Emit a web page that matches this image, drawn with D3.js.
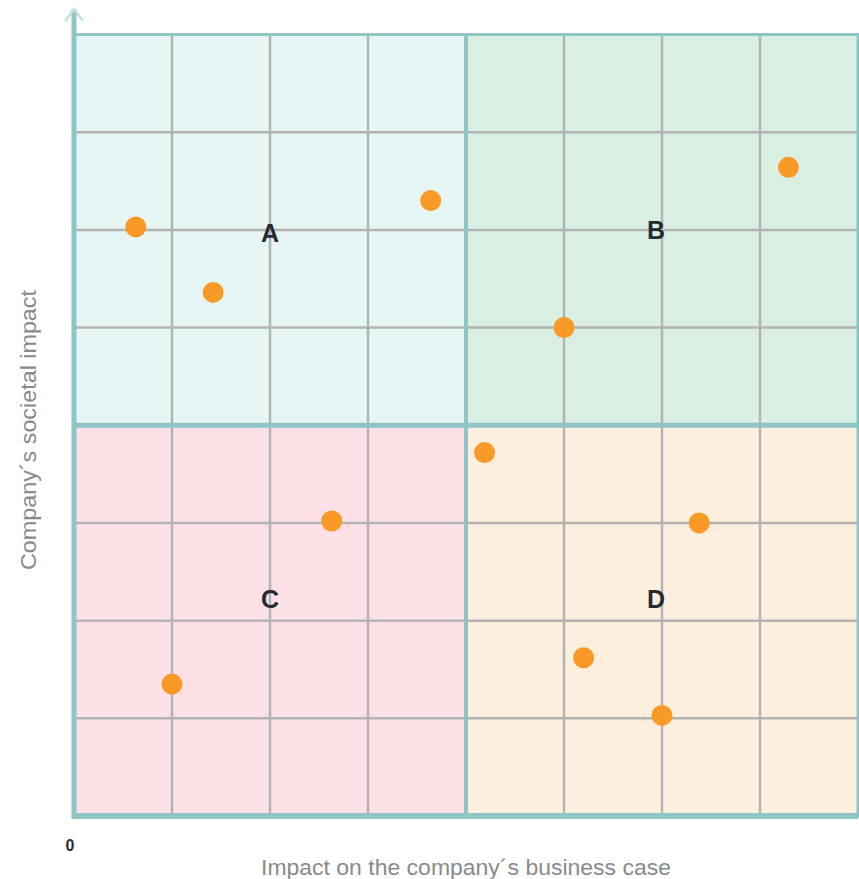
<!DOCTYPE html>
<html>
<head>
<meta charset="utf-8">
<script src="https://cdn.jsdelivr.net/npm/d3@7"></script>
<style>
  body { margin: 0; background: #fff; }
  text { font-family: "Liberation Sans", Arial, sans-serif; }
</style>
</head>
<body>
<div id="app"></div>
<script>
// data
const quadrants = ["A", "B", "C", "D"];
const quadX0 = [0, 4, 0, 4];
const quadY0 = [4, 4, 0, 0];
const quadFill = ["#e6f6f4", "#d9efe2", "#fde1e7", "#fdefde"];
const labelX = [2, 5.94, 2, 5.94];
const labelY = [5.97, 6, 2.22, 2.22];

const pointsX = [0.63, 1.42, 3.64, 7.29, 5.0, 2.63, 1.0, 4.19, 6.38, 5.2, 6.0];
const pointsY = [6.03, 5.36, 6.30, 6.64, 5.0, 3.02, 1.35, 3.72, 3.0, 1.62, 1.03];

const gridTicks = [1, 2, 3, 5, 6, 7];
const xTitle = "Impact on the company´s business case";
const yTitle = "Company´s societal impact";

const w = 859, h = 879;
const padL = 74, padR = 858, padT = 34.5, padB = 816;

const svg = d3.select("#app").append("svg")
  .attr("width", w)
  .attr("height", h);

const x = d3.scaleLinear().domain([0, 8]).range([padL, padR]);
const y = d3.scaleLinear().domain([0, 8]).range([padB, padT]);

// quadrant backgrounds
svg.selectAll("rect.quad")
  .data(quadrants)
  .enter().append("rect")
  .attr("class", "quad")
  .attr("x", (d, i) => x(quadX0[i]))
  .attr("y", (d, i) => y(quadY0[i] + 4))
  .attr("width", (d, i) => x(quadX0[i] + 4) - x(quadX0[i]))
  .attr("height", (d, i) => y(quadY0[i]) - y(quadY0[i] + 4))
  .style("fill", (d, i) => quadFill[i]);

// grid
svg.append("g").selectAll("line")
  .data(gridTicks).enter().append("line")
  .attr("x1", d => x(d)).attr("x2", d => x(d))
  .attr("y1", y(8)).attr("y2", y(0))
  .style("stroke", "#b3b3b3").style("stroke-width", 2.5);

svg.append("g").selectAll("line")
  .data(gridTicks).enter().append("line")
  .attr("y1", d => y(d)).attr("y2", d => y(d))
  .attr("x1", x(0)).attr("x2", x(8))
  .style("stroke", "#b3b3b3").style("stroke-width", 2.5);

// quadrant borders
const teal = "#90c5c5";
svg.append("rect")
  .attr("x", x(0)).attr("y", y(8))
  .attr("width", x(8) - x(0)).attr("height", y(0) - y(8))
  .style("fill", "none").style("stroke", teal).style("stroke-width", 3);
svg.append("line")
  .attr("x1", x(4)).attr("x2", x(4)).attr("y1", y(8)).attr("y2", y(0))
  .style("stroke", teal).style("stroke-width", 4);
svg.append("line")
  .attr("x1", x(0)).attr("x2", x(8)).attr("y1", y(4)).attr("y2", y(4))
  .style("stroke", teal).style("stroke-width", 5);
// bottom axis line
svg.append("line")
  .attr("x1", x(0) - 2).attr("x2", x(8)).attr("y1", y(0)).attr("y2", y(0))
  .style("stroke", teal).style("stroke-width", 6);
// left axis line with arrow
svg.append("line")
  .attr("x1", x(0)).attr("x2", x(0)).attr("y1", 9).attr("y2", y(0) + 3)
  .style("stroke", teal).style("stroke-width", 5);
svg.append("path")
  .attr("d", `M${x(0) - 9},21 L${x(0)},9 L${x(0) + 9},21`)
  .style("fill", "none").style("stroke", "#bfe0de").style("stroke-width", 2.5);

// points
svg.selectAll("circle")
  .data(pointsX).enter().append("circle")
  .attr("cx", d => x(d))
  .attr("cy", (d, i) => y(pointsY[i]))
  .attr("r", 10.5)
  .style("fill", "#f99a26");

// quadrant labels
svg.selectAll("text.ql")
  .data(quadrants).enter().append("text")
  .attr("class", "ql")
  .attr("x", (d, i) => x(labelX[i]))
  .attr("y", (d, i) => y(labelY[i]))
  .attr("dy", "0.35em")
  .attr("text-anchor", "middle")
  .style("font-size", "25px")
  .style("font-weight", "bold")
  .style("fill", "#262b33")
  .text(d => d);

// origin label
svg.append("text")
  .attr("x", 70).attr("y", 851)
  .attr("text-anchor", "middle")
  .style("font-size", "16px").style("font-weight", "bold")
  .style("fill", "#2a2e36")
  .text("0");

// axis titles
svg.append("text")
  .attr("x", (x(0) + x(8)) / 2).attr("y", 875)
  .attr("text-anchor", "middle")
  .attr("textLength", 410)
  .attr("lengthAdjust", "spacingAndGlyphs")
  .style("font-size", "22px")
  .style("fill", "#8a8a8a")
  .text(xTitle);

svg.append("text")
  .attr("transform", "translate(36,430) rotate(-90)")
  .attr("text-anchor", "middle")
  .attr("textLength", 280)
  .attr("lengthAdjust", "spacingAndGlyphs")
  .style("font-size", "22px")
  .style("fill", "#8a8a8a")
  .text(yTitle);
</script>
</body>
</html>
